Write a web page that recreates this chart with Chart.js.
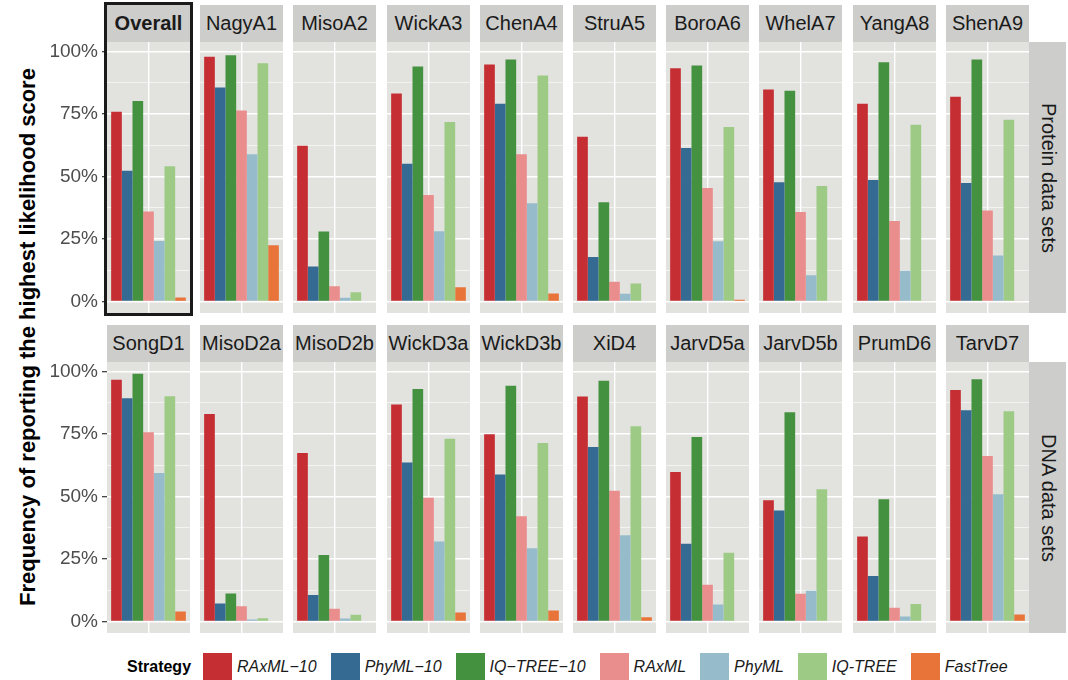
<!DOCTYPE html>
<html><head><meta charset="utf-8">
<script src="https://cdn.jsdelivr.net/npm/chart.js@4"></script>
<style>
body{margin:0;background:#fff;}
#wrap{position:relative;width:1068px;height:680px;overflow:hidden;font-family:'Liberation Sans',Arial,Helvetica,sans-serif;}
.strip{position:absolute;background:#cdcdcb;color:#1a1a1a;font-size:20px;display:flex;align-items:center;justify-content:center;white-space:nowrap;}
.rstrip{position:absolute;background:#cdcdcb;}
.rtext{position:absolute;left:50%;top:50%;transform:translate(-50%,-50%) rotate(90deg);font-size:20px;color:#1a1a1a;white-space:nowrap;}
canvas{position:absolute;}
#ytitle{position:absolute;left:28px;top:337px;transform:translate(-50%,-50%) rotate(-90deg);font-size:22px;font-weight:bold;color:#000;white-space:nowrap;}
#frame{position:absolute;left:104px;top:2px;width:89px;height:314px;border:3px solid #1a1a1a;box-sizing:border-box;}
#legend{position:absolute;left:127px;top:653px;height:27px;display:flex;align-items:center;font-size:16px;color:#1a1a1a;white-space:nowrap;}
#legend .ttl{font-weight:bold;margin-right:12px;color:#000;}
#legend .box{width:29px;height:27px;margin-right:5px;}
#legend .lab{font-style:italic;margin-right:14px;}
</style></head>
<body><div id="wrap"><div id="ytitle">Frequency of reporting the highest likelihood score</div><div id="legend"><span class="ttl">Strategy</span></div></div>
<script>
// ---- data ----
const proteinPanels = ['Overall','NagyA1','MisoA2','WickA3','ChenA4','StruA5','BoroA6','WhelA7','YangA8','ShenA9'];
const dnaPanels = ['SongD1','MisoD2a','MisoD2b','WickD3a','WickD3b','XiD4','JarvD5a','JarvD5b','PrumD6','TarvD7'];
const rowLabels = ['Protein data sets','DNA data sets'];
const strategies = ['RAxML\u221210','PhyML\u221210','IQ\u2212TREE\u221210','RAxML','PhyML','IQ-TREE','FastTree'];
const yTickValues = [0,25,50,75,100];
// values in %, panel order: proteinPanels then dnaPanels
const raxml10  = [75.9,97.9,62.3,83.2,94.8,65.9,93.3,84.8,79.1,81.9, 96.7,83.0,67.4,86.8,74.9,90.0,59.8,48.5,34.0,92.6];
const phyml10  = [52.3,85.6,14.0,55.1,79.1,17.8,61.4,47.7,48.6,47.4, 89.3,7.2,10.6,63.6,58.8,69.8,31.1,44.4,18.2,84.5];
const iqtree10 = [80.2,98.5,28.0,94.0,96.8,39.7,94.4,84.3,95.7,96.8, 99.1,11.2,26.6,93.0,94.3,96.3,73.8,83.7,48.9,96.9];
const raxml    = [36.0,76.4,6.1,42.6,58.9,7.9,45.4,35.8,32.2,36.4, 75.7,6.1,5.1,49.5,42.1,52.3,14.7,11.1,5.5,66.2];
const phyml    = [24.2,58.9,1.5,28.1,39.3,3.1,24.1,10.5,12.3,18.4, 59.4,0.8,1.2,32.0,29.3,34.5,6.8,12.3,2.0,50.9];
const iqtree   = [54.1,95.3,3.7,71.8,90.4,7.2,69.8,46.2,70.7,72.7, 90.1,1.3,2.7,73.1,71.4,78.1,27.5,52.9,7.0,84.1];
const fasttree = [1.6,22.5,0,5.7,3.2,0,0.7,0,0.3,0.3, 4.0,0,0,3.6,4.4,1.7,0,0,0,2.8];

// ---- styles / layout ----
const series = [raxml10,phyml10,iqtree10,raxml,phyml,iqtree,fasttree];
const colors = ['#c52e32','#356a92','#44913f','#ea8e8d','#96bccc','#9dcb86','#e8743a'];
const panelNames = proteinPanels.concat(dnaPanels);
const PANEL_X0 = 107, PANEL_STEP = 93.2, PANEL_W = 83, PANEL_H = 271;
const ROW_TOP = [42, 362], STRIP_H = 37, AXIS_W = 67;
const wrap = document.getElementById('wrap');

const bgPlugin = {
  id:'bg',
  beforeDraw(chart){
    const a = chart.chartArea, ctx = chart.ctx;
    ctx.save(); ctx.fillStyle = '#e2e2df';
    ctx.fillRect(a.left, a.top, a.right-a.left, a.bottom-a.top);
    ctx.restore();
  }
};
const isMajor = v => yTickValues.includes(v);

for (let r = 0; r < 2; r++) {
  for (let c = 0; c < 10; c++) {
    const idx = r*10 + c;
    const left = Math.round(PANEL_X0 + PANEL_STEP*c);
    const isLeft = c === 0;
    // strip
    const s = document.createElement('div');
    s.className = 'strip';
    s.style.left = left+'px'; s.style.top = (ROW_TOP[r]-STRIP_H)+'px';
    s.style.width = PANEL_W+'px'; s.style.height = STRIP_H+'px';
    s.textContent = panelNames[idx];
    if (idx === 0) s.style.fontWeight = 'bold';
    wrap.appendChild(s);
    // canvas
    const cv = document.createElement('canvas');
    const cw = PANEL_W + (isLeft ? AXIS_W : 0);
    cv.width = cw; cv.height = PANEL_H;
    cv.style.left = (left - (isLeft ? AXIS_W : 0))+'px';
    cv.style.top = ROW_TOP[r]+'px';
    cv.style.width = cw+'px'; cv.style.height = PANEL_H+'px';
    wrap.appendChild(cv);
    new Chart(cv, {
      type:'bar',
      data:{
        labels:[panelNames[idx]],
        datasets: strategies.map((name,k)=>({
          label:name, data:[series[k][idx]], backgroundColor:colors[k],
          borderWidth:0, categoryPercentage:0.9, barPercentage:1.0
        }))
      },
      options:{
        responsive:false, animation:false, maintainAspectRatio:false,
        layout:{padding:0},
        plugins:{legend:{display:false}, tooltip:{enabled:false}},
        scales:{
          x:{
            grid:{offset:false, color:'#ffffff', lineWidth:1.4, drawTicks:false},
            border:{display:false},
            ticks:{display:false}
          },
          y:{
            min:-4.6, max:103.8,
            ticks:{
              stepSize:12.5, includeBounds:false, autoSkip:false,
              display:isLeft, padding:4, color:'#4d4d4d',
              font:{family:"'Liberation Sans', Arial, sans-serif", size:19},
              callback:v => isMajor(v) ? v+'%' : ''
            },
            grid:{
              color:'#ffffff',
              lineWidth:ctx => (ctx.tick && isMajor(ctx.tick.value)) ? 1.4 : 0.6,
              drawTicks:isLeft, tickLength:5, tickWidth:1.2,
              tickColor:ctx => (ctx.tick && isMajor(ctx.tick.value)) ? '#333333' : 'rgba(0,0,0,0)'
            },
            border:{display:false},
            afterFit: sc => {
              if (isLeft) sc.width = AXIS_W;
              sc.paddingTop = 0; sc.paddingBottom = 0;
            }
          }
        }
      },
      plugins:[bgPlugin]
    });
  }
  // right strip
  const rs = document.createElement('div');
  rs.className = 'rstrip';
  rs.style.left = '1029px'; rs.style.top = ROW_TOP[r]+'px';
  rs.style.width = '37px'; rs.style.height = PANEL_H+'px';
  const rt = document.createElement('div');
  rt.className = 'rtext'; rt.textContent = rowLabels[r];
  rs.appendChild(rt);
  wrap.appendChild(rs);
}
// frame around Overall
const fr = document.createElement('div'); fr.id = 'frame'; wrap.appendChild(fr);
// legend
const lg = document.getElementById('legend');
strategies.forEach((name,k)=>{
  const b = document.createElement('span'); b.className='box'; b.style.background = colors[k];
  const l = document.createElement('span'); l.className='lab'; l.textContent = name;
  lg.appendChild(b); lg.appendChild(l);
});
</script>
</body></html>
